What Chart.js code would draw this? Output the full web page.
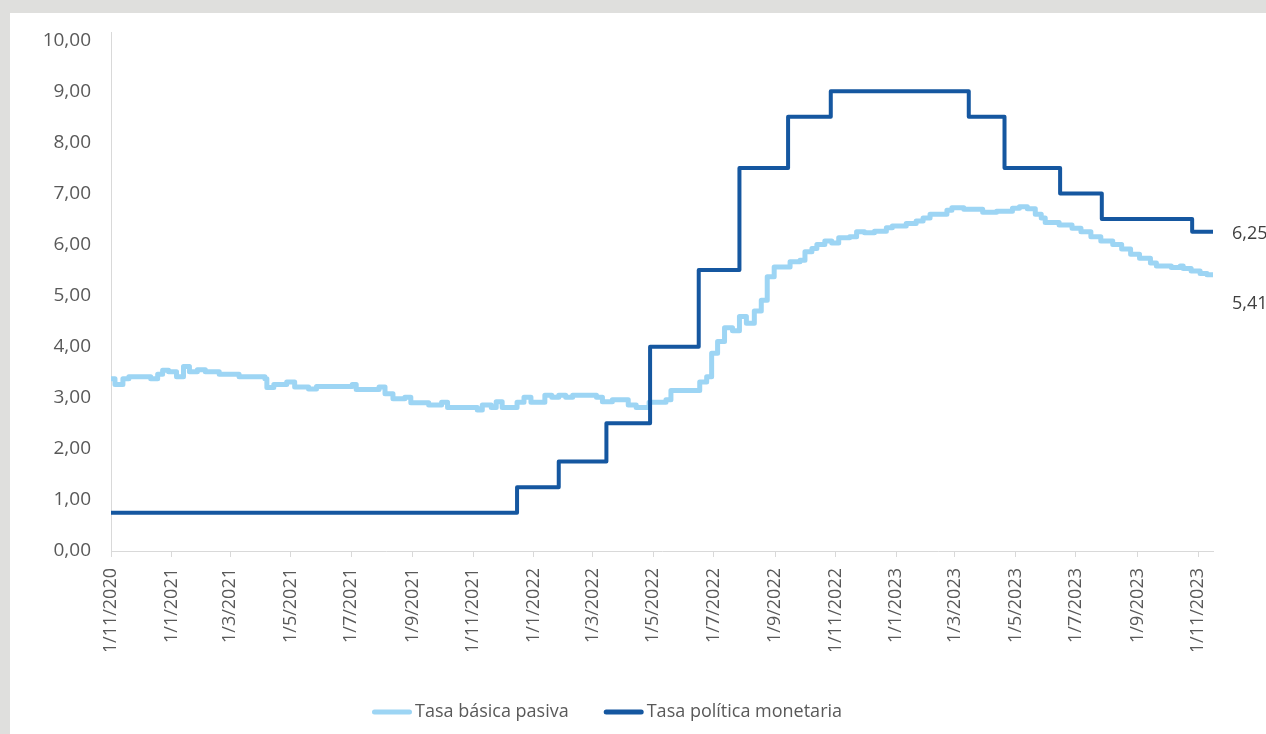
<!DOCTYPE html>
<html>
<head>
<meta charset="utf-8">
<script src="https://cdn.jsdelivr.net/npm/chart.js@4/dist/chart.umd.min.js"></script>
<style>
  html, body { margin: 0; padding: 0; background: #dfdfdd; }
  body { width: 1266px; height: 734px; overflow: hidden; position: relative; }
  #panel { position: absolute; left: 10px; top: 13px; width: 1256px; height: 721px; background: #ffffff; }
  canvas { display: block; }
</style>
</head>
<body>
<div id="panel"><canvas id="chart" width="1256" height="721"></canvas></div>
<script>
// Tasa básica pasiva: dates where the rate changes and the new value (%)
const tbpDates = [
  '2020-11-01','2020-11-05','2020-11-13','2020-11-19','2020-12-11','2020-12-18','2020-12-23','2020-12-29',
  '2021-01-06','2021-01-13','2021-01-19','2021-01-27','2021-02-04','2021-02-18','2021-03-10','2021-04-05',
  '2021-04-07','2021-04-14','2021-04-27','2021-05-05','2021-05-19','2021-05-27','2021-07-02','2021-07-06',
  '2021-07-29','2021-08-04','2021-08-12','2021-08-24','2021-08-30','2021-09-17','2021-09-30','2021-10-06',
  '2021-11-05','2021-11-10','2021-11-19','2021-11-24','2021-11-30','2021-12-15','2021-12-22','2021-12-29',
  '2022-01-12','2022-01-19','2022-01-26','2022-02-02','2022-02-09','2022-03-05','2022-03-11','2022-03-21',
  '2022-04-06','2022-04-14','2022-04-27','2022-05-14','2022-05-19','2022-06-17','2022-06-24','2022-06-29',
  '2022-07-05','2022-07-12','2022-07-20','2022-07-27','2022-08-03','2022-08-11','2022-08-18','2022-08-24',
  '2022-08-31','2022-09-16','2022-09-26','2022-10-01','2022-10-08','2022-10-13','2022-10-21','2022-10-28',
  '2022-11-04','2022-11-15','2022-11-22','2022-11-30','2022-12-10','2022-12-22','2022-12-28','2023-01-11',
  '2023-01-21','2023-01-28','2023-02-04','2023-02-21','2023-02-26','2023-03-10','2023-03-29','2023-04-12',
  '2023-04-28','2023-05-05','2023-05-13','2023-05-21','2023-05-27','2023-05-31','2023-06-14','2023-06-27',
  '2023-07-06','2023-07-16','2023-07-26','2023-08-07','2023-08-16','2023-08-25','2023-09-03','2023-09-14',
  '2023-09-20','2023-10-05','2023-10-14','2023-10-17','2023-10-25','2023-11-03','2023-11-10','2023-11-16'
];
const tbpValues = [
  3.37, 3.26, 3.37, 3.41, 3.37, 3.46, 3.54, 3.51,
  3.41, 3.61, 3.51, 3.55, 3.51, 3.46, 3.41, 3.37,
  3.20, 3.26, 3.31, 3.21, 3.17, 3.22, 3.26, 3.16,
  3.21, 3.08, 2.98, 3.01, 2.90, 2.86, 2.91, 2.81,
  2.76, 2.86, 2.81, 2.92, 2.81, 2.91, 3.01, 2.91,
  3.05, 3.01, 3.05, 3.01, 3.05, 3.01, 2.92, 2.96,
  2.86, 2.81, 2.91, 2.96, 3.14, 3.31, 3.41, 3.87,
  4.10, 4.37, 4.31, 4.59, 4.46, 4.70, 4.91, 5.37,
  5.56, 5.66, 5.69, 5.86, 5.92, 6.00, 6.07, 6.03,
  6.13, 6.15, 6.25, 6.23, 6.26, 6.33, 6.36, 6.41,
  6.46, 6.52, 6.59, 6.67, 6.72, 6.69, 6.63, 6.65,
  6.71, 6.74, 6.70, 6.59, 6.52, 6.43, 6.38, 6.32,
  6.25, 6.15, 6.07, 6.00, 5.91, 5.81, 5.73, 5.64,
  5.58, 5.55, 5.58, 5.53, 5.48, 5.43, 5.41, 5.41
];

// Tasa de política monetaria: decision dates and the new rate (%)
const tpmDates = [
  '2020-11-01','2021-12-15','2022-01-26','2022-03-15','2022-04-28','2022-06-16','2022-07-27',
  '2022-09-14','2022-10-27','2023-03-15','2023-04-20','2023-06-15','2023-07-27','2023-10-26','2023-11-16'
];
const tpmValues = [
  0.75, 1.25, 1.75, 2.50, 4.00, 5.50, 7.50,
  8.50, 9.00, 8.50, 7.50, 7.00, 6.50, 6.25, 6.25
];

const seriesNames = ['Tasa básica pasiva', 'Tasa política monetaria'];

// Axis ticks
const xTickDates = [
  '2020-11-01','2021-01-01','2021-03-01','2021-05-01','2021-07-01','2021-09-01','2021-11-01',
  '2022-01-01','2022-03-01','2022-05-01','2022-07-01','2022-09-01','2022-11-01',
  '2023-01-01','2023-03-01','2023-05-01','2023-07-01','2023-09-01','2023-11-01'
];
const xTickLabels = [
  '1/11/2020','1/1/2021','1/3/2021','1/5/2021','1/7/2021','1/9/2021','1/11/2021',
  '1/1/2022','1/3/2022','1/5/2022','1/7/2022','1/9/2022','1/11/2022',
  '1/1/2023','1/3/2023','1/5/2023','1/7/2023','1/9/2023','1/11/2023'
];
const yTicks = [0, 1, 2, 3, 4, 5, 6, 7, 8, 9, 10];

// Day count from the first date of the series
const origin = tbpDates[0];
function dayOf(s) {
  const [y, m, d] = s.split('-').map(Number);
  const [oy, om, od] = origin.split('-').map(Number);
  return Math.round((Date.UTC(y, m - 1, d) - Date.UTC(oy, om - 1, od)) / 86400000);
}
const toPoints = (dates, values) => dates.map((d, i) => ({ x: dayOf(d), y: values[i] }));
const fmt = v => v.toFixed(2).replace('.', ',');

const FONT = '"Open Sans", "Noto Sans", sans-serif';
const TEXT = '#595959';
const AXIS = '#d9d9d9';
const LIGHT = '#9dd5f4';
const DARK = '#1557a0';

// Value of the last point written to the right of each line
const endLabels = {
  id: 'endLabels',
  afterDatasetsDraw(chart) {
    const ctx = chart.ctx;
    const shiftY = [29, 2];
    chart.data.datasets.forEach((ds, i) => {
      const meta = chart.getDatasetMeta(i);
      const pt = meta.data[meta.data.length - 1];
      const v = ds.data[ds.data.length - 1].y;
      ctx.save();
      ctx.font = '18px ' + FONT;
      ctx.fillStyle = '#404040';
      ctx.textAlign = 'left';
      ctx.textBaseline = 'middle';
      ctx.fillText(fmt(v), pt.x + 19, pt.y + shiftY[i]);
      ctx.restore();
    });
  }
};

// Legend row under the axis: short line sample followed by the series name
const legendRow = {
  id: 'legendRow',
  afterDraw(chart) {
    const ctx = chart.ctx;
    const sample = 40, textGap = 3, itemGap = 35, centerX = 597, y = 699;
    ctx.save();
    ctx.font = '18px ' + FONT;
    const items = chart.data.datasets.map(ds => ({
      text: ds.label, color: ds.borderColor, w: ctx.measureText(ds.label).width
    }));
    const total = items.reduce((s, it) => s + sample + textGap + it.w, 0) + itemGap * (items.length - 1);
    let x = centerX - total / 2;
    items.forEach(it => {
      ctx.strokeStyle = it.color;
      ctx.lineWidth = 5;
      ctx.lineCap = 'round';
      ctx.beginPath();
      ctx.moveTo(x + 2.5, y);
      ctx.lineTo(x + sample - 2.5, y);
      ctx.stroke();
      ctx.fillStyle = TEXT;
      ctx.textAlign = 'left';
      ctx.textBaseline = 'middle';
      ctx.fillText(it.text, x + sample + textGap, y);
      x += sample + textGap + it.w + itemGap;
    });
    ctx.restore();
  }
};

function build() {
  new Chart(document.getElementById('chart'), {
    type: 'line',
    data: {
      datasets: [
        {
          label: seriesNames[0],
          data: toPoints(tbpDates, tbpValues),
          borderColor: LIGHT,
          backgroundColor: LIGHT,
          borderWidth: 5,
          stepped: 'before',
          pointRadius: 0,
          borderJoinStyle: 'round',
          borderCapStyle: 'round',
          order: 1
        },
        {
          label: seriesNames[1],
          data: toPoints(tpmDates, tpmValues),
          borderColor: DARK,
          backgroundColor: DARK,
          borderWidth: 4,
          stepped: 'before',
          pointRadius: 0,
          borderJoinStyle: 'round',
          borderCapStyle: 'round',
          order: 0
        }
      ]
    },
    options: {
      responsive: false,
      animation: false,
      devicePixelRatio: 1,
      layout: { padding: { top: 19, right: 53, bottom: 83, left: 0 } },
      scales: {
        x: {
          type: 'linear',
          min: 0,
          max: dayOf(tpmDates[tpmDates.length - 1]),
          afterBuildTicks(s) { s.ticks = xTickDates.map(d => ({ value: dayOf(d) })); },
          afterFit(s) { s.height = 100; },
          grid: { display: true, drawOnChartArea: false, drawTicks: true, tickLength: 6, color: AXIS },
          border: { display: true, color: AXIS, width: 1 },
          ticks: {
            autoSkip: false,
            minRotation: 90,
            maxRotation: 90,
            padding: 11,
            color: TEXT,
            font: { family: FONT, size: 18 },
            callback: (v, i) => xTickLabels[i]
          }
        },
        y: {
          min: 0,
          max: 10.16,
          afterBuildTicks(s) { s.ticks = yTicks.map(v => ({ value: v })); },
          afterFit(s) { s.width = 101; },
          grid: { display: false, drawTicks: true, tickLength: 20 },
          border: { display: true, color: AXIS, width: 1 },
          ticks: {
            padding: 0,
            color: TEXT,
            font: { family: FONT, size: 19 },
            callback: v => fmt(v)
          }
        }
      },
      plugins: {
        tooltip: { enabled: false },
        legend: { display: false }
      }
    },
    plugins: [endLabels, legendRow]
  });
}

if (document.fonts && document.fonts.load) {
  document.fonts.load('18px "Open Sans"').then(build, build);
} else {
  build();
}
</script>
</body>
</html>
